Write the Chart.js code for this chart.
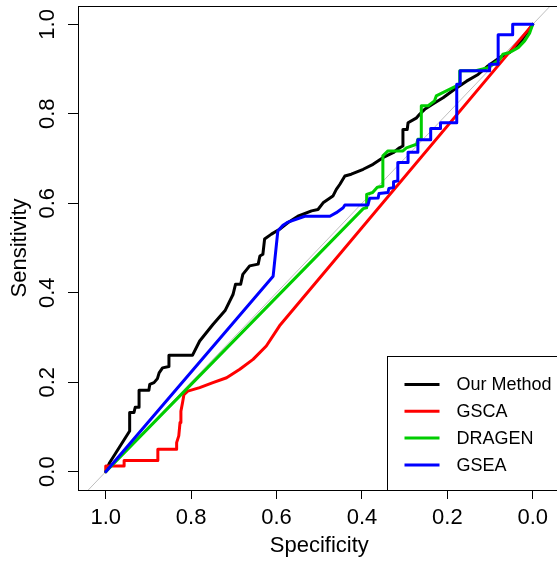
<!DOCTYPE html>
<html><head><meta charset="utf-8">
<script src="https://cdn.jsdelivr.net/npm/chart.js@4.4.1/dist/chart.umd.min.js"></script>
<style>html,body{margin:0;padding:0;background:#fff;overflow:hidden;}</style>
</head><body>
<canvas id="c" width="565" height="565"></canvas>
<script>
// ---------- data ----------
const SERIES_NAMES = ['Our Method', 'GSCA', 'DRAGEN', 'GSEA'];
const SERIES_COLORS = ['#000000', '#FF0000', '#00CD00', '#0000FF'];

const OUR_SPEC = [1.000,0.991,0.944,0.944,0.934,0.931,0.922,0.922,0.899,0.897,0.887,0.879,0.875,0.867,0.852,0.852,0.797,0.780,0.749,0.720,0.702,0.696,0.684,0.679,0.663,0.643,0.639,0.632,0.628,0.612,0.593,0.573,0.550,0.518,0.503,0.491,0.468,0.460,0.452,0.440,0.425,0.397,0.374,0.351,0.327,0.312,0.304,0.304,0.294,0.292,0.272,0.265,0.253,0.234,0.210,0.183,0.155,0.128,0.105,0.077,0.054,0.030,0.003,0.000];
const OUR_SENS = [0.000,0.020,0.091,0.132,0.132,0.144,0.144,0.182,0.182,0.195,0.199,0.208,0.221,0.232,0.235,0.260,0.260,0.292,0.329,0.361,0.396,0.419,0.419,0.441,0.460,0.464,0.482,0.486,0.520,0.531,0.542,0.557,0.571,0.583,0.586,0.601,0.616,0.631,0.642,0.661,0.665,0.676,0.687,0.702,0.713,0.724,0.728,0.765,0.765,0.780,0.791,0.799,0.810,0.822,0.836,0.855,0.873,0.888,0.907,0.926,0.937,0.959,0.996,1.000];

const GSCA_SPEC = [1.000,1.000,0.957,0.957,0.878,0.878,0.834,0.834,0.829,0.826,0.824,0.820,0.817,0.808,0.780,0.749,0.717,0.686,0.655,0.624,0.593,0.000];
const GSCA_SENS = [0.000,0.0125,0.0125,0.025,0.025,0.050,0.050,0.065,0.080,0.110,0.135,0.155,0.172,0.180,0.188,0.199,0.210,0.229,0.251,0.281,0.326,1.000];

const DRAGEN_SPEC = [1.000,0.397,0.390,0.389,0.375,0.364,0.351,0.351,0.339,0.304,0.296,0.272,0.269,0.261,0.261,0.245,0.230,0.226,0.194,0.171,0.171,0.136,0.105,0.077,0.070,0.054,0.034,0.019,0.007,0.000];
const DRAGEN_SENS = [0.000,0.588,0.590,0.620,0.624,0.636,0.638,0.706,0.717,0.717,0.724,0.732,0.743,0.743,0.818,0.818,0.829,0.840,0.855,0.866,0.896,0.896,0.903,0.922,0.933,0.937,0.948,0.963,0.981,1.000];

const GSEA_SPEC = [1.000,0.608,0.597,0.585,0.573,0.534,0.475,0.460,0.444,0.440,0.386,0.382,0.362,0.360,0.339,0.337,0.327,0.326,0.316,0.316,0.292,0.292,0.269,0.269,0.239,0.239,0.216,0.216,0.178,0.178,0.170,0.170,0.101,0.101,0.081,0.081,0.047,0.047,0.000];
const GSEA_SENS = [0.000,0.437,0.538,0.551,0.558,0.571,0.571,0.579,0.590,0.596,0.596,0.611,0.612,0.622,0.624,0.633,0.635,0.648,0.650,0.691,0.691,0.714,0.714,0.742,0.742,0.767,0.767,0.780,0.780,0.866,0.866,0.896,0.896,0.911,0.911,0.977,0.977,1.000,1.000];

const CHANCE_SPEC = [1.2, -0.2];
const CHANCE_SENS = [-0.2, 1.2];

const TICK_VALUES = [0, 0.2, 0.4, 0.6, 0.8, 1.0];
const X_TITLE = 'Specificity';
const Y_TITLE = 'Sensitivity';

// ---------- build ----------
const pts = (xs, ys) => xs.map((x, i) => ({x: x, y: ys[i]}));
const SPECS = [OUR_SPEC, GSCA_SPEC, DRAGEN_SPEC, GSEA_SPEC];
const SENSS = [OUR_SENS, GSCA_SENS, DRAGEN_SENS, GSEA_SENS];

const FONT = "'Liberation Sans', Arial, sans-serif";
Chart.defaults.font.family = FONT;
Chart.defaults.color = '#000';

const datasets = SERIES_NAMES.map((name, i) => ({
  label: name,
  data: pts(SPECS[i], SENSS[i]),
  borderColor: SERIES_COLORS[i],
  backgroundColor: SERIES_COLORS[i],
  borderWidth: 3,
  showLine: true,
  pointRadius: 0,
  tension: 0,
  borderJoinStyle: 'round',
  borderCapStyle: 'round',
  order: 4 - i
}));
datasets.push({
  label: '_chance',
  data: pts(CHANCE_SPEC, CHANCE_SENS),
  borderColor: '#BEBEBE',
  borderWidth: 1,
  showLine: true,
  pointRadius: 0,
  order: 10
});

const framePlugin = {
  id: 'frameLegend',
  afterDatasetsDraw(chart) {
    const {ctx, chartArea: a} = chart;
    ctx.save();
    ctx.strokeStyle = '#000';
    ctx.lineWidth = 1;
    const L = Math.round(a.left) + 0.5, T = Math.round(a.top) + 0.5,
          R = Math.round(a.right) + 0.5, B = Math.round(a.bottom) + 0.5;
    ctx.beginPath();
    ctx.moveTo(L, B); ctx.lineTo(L, T); ctx.lineTo(R, T); ctx.lineTo(R, B);
    ctx.stroke();
    // legend box (bottom right)
    const bw = 174, bh = 134;
    const bx = Math.round(a.right - bw) + 0.5, by = Math.round(a.bottom - bh) + 0.5;
    ctx.fillStyle = '#fff';
    ctx.fillRect(bx, by, R - bx, B - by);
    ctx.strokeRect(bx, by, R - bx, B - by);
    ctx.font = '18px ' + FONT;
    ctx.textBaseline = 'middle';
    ctx.textAlign = 'left';
    const items = chart.data.datasets.filter(d => !d.label.startsWith('_'));
    items.forEach((d, i) => {
      const y = by + 28 + i * 26.8;
      ctx.strokeStyle = d.borderColor;
      ctx.lineWidth = 3;
      ctx.beginPath();
      ctx.moveTo(bx + 17, y); ctx.lineTo(bx + 52, y);
      ctx.stroke();
      ctx.fillStyle = '#000';
      ctx.fillText(d.label, bx + 69, y + 1);
    });
    ctx.restore();
  }
};

const setTicks = (scale) => { scale.ticks = TICK_VALUES.map(v => ({value: v})); };

new Chart(document.getElementById('c'), {
  type: 'scatter',
  data: {datasets},
  plugins: [framePlugin],
  options: {
    responsive: false,
    animation: false,
    events: [],
    layout: {padding: {left: 0, top: 6, right: 4.5, bottom: 0}},
    plugins: {legend: {display: false}, tooltip: {enabled: false}},
    scales: {
      x: {
        type: 'linear',
        reverse: true,
        min: -0.065, max: 1.065,
        afterBuildTicks: setTicks,
        afterFit: (s) => { s.height = 75; s.paddingLeft = 0; s.paddingRight = 0; },
        grid: {drawOnChartArea: false, drawTicks: true, tickLength: 9, color: '#000', lineWidth: 1},
        border: {display: true, color: '#000', width: 1},
        ticks: {font: {size: 22}, color: '#000', padding: 6, maxRotation: 0, autoSkip: false,
                callback: (v) => Number(v).toFixed(1)},
        title: {display: true, text: X_TITLE, font: {size: 22}, color: '#000', padding: {top: 0, bottom: 6}}
      },
      y: {
        type: 'linear',
        min: -0.041, max: 1.041,
        afterBuildTicks: setTicks,
        afterFit: (s) => { s.width = 78; s.paddingTop = 0; s.paddingBottom = 0; },
        grid: {drawOnChartArea: false, drawTicks: true, tickLength: 10, color: '#000', lineWidth: 1},
        border: {display: true, color: '#000', width: 1},
        ticks: {font: {size: 22}, color: '#000', padding: 5, minRotation: 90, maxRotation: 90,
                crossAlign: 'center', autoSkip: false,
                callback: (v) => Number(v).toFixed(1)},
        title: {display: true, text: Y_TITLE, font: {size: 22}, color: '#000', padding: {top: 7, bottom: 0}}
      }
    }
  }
});
</script>
</body></html>
